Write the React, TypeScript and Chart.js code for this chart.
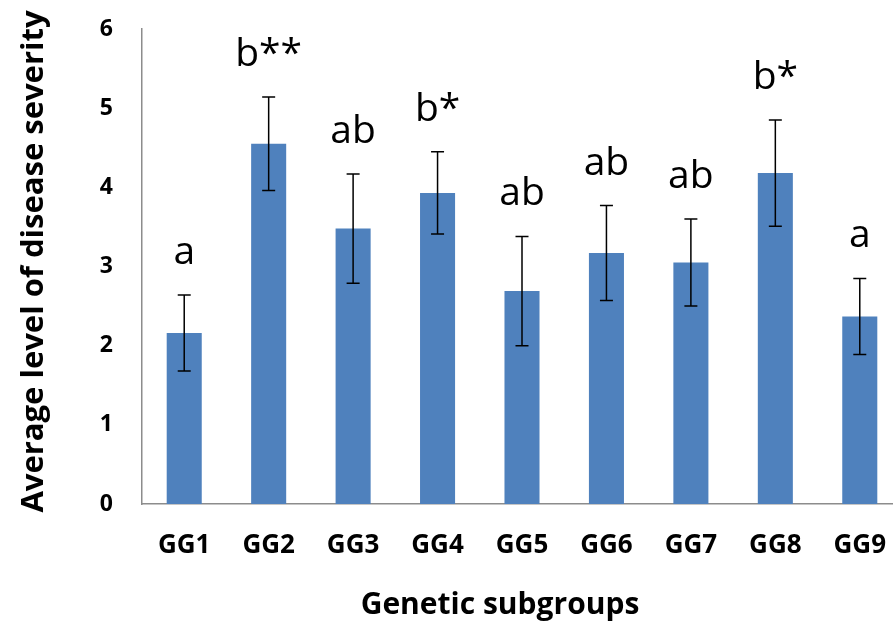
import React, { useEffect, useRef } from "react";
import { Chart, registerables } from "chart.js";

Chart.register(...registerables);

const categories = ["GG1", "GG2", "GG3", "GG4", "GG5", "GG6", "GG7", "GG8", "GG9"];
const means = [2.16, 4.55, 3.48, 3.93, 2.69, 3.17, 3.05, 4.18, 2.37];
const errors = [0.48, 0.59, 0.69, 0.52, 0.69, 0.6, 0.55, 0.67, 0.48];
const letters = ["a", "b**", "ab", "b*", "ab", "ab", "ab", "b*", "a"];
const yTicks = [0, 1, 2, 3, 4, 5, 6];
const yTitle = "Average level of disease severity";
const xTitle = "Genetic subgroups";

const FONT = "'Open Sans', 'DejaVu Sans', sans-serif";

const extrasPlugin = {
  id: "extras",
  afterDatasetsDraw(chart: any) {
    const ctx = chart.ctx;
    const meta = chart.getDatasetMeta(0);
    const ys = chart.scales.y;
    ctx.save();
    meta.data.forEach((el: any, i: number) => {
      const x = el.x;
      const top = ys.getPixelForValue(means[i] + errors[i]);
      const bot = ys.getPixelForValue(means[i] - errors[i]);
      ctx.strokeStyle = "#000000";
      ctx.lineWidth = 1.5;
      ctx.beginPath();
      ctx.moveTo(x, top);
      ctx.lineTo(x, bot);
      ctx.moveTo(x - 6.5, top);
      ctx.lineTo(x + 6.5, top);
      ctx.moveTo(x - 6.5, bot);
      ctx.lineTo(x + 6.5, bot);
      ctx.stroke();
      ctx.fillStyle = "#000000";
      ctx.font = `39px ${FONT}`;
      ctx.textAlign = "center";
      ctx.textBaseline = "alphabetic";
      ctx.fillText(letters[i], x, top - 31);
    });
    // axis titles
    ctx.fillStyle = "#000000";
    ctx.font = `bold 30px ${FONT}`;
    ctx.textAlign = "center";
    ctx.textBaseline = "alphabetic";
    ctx.fillText(xTitle, 500, 614);
    ctx.font = `bold 31px ${FONT}`;
    ctx.translate(43, 261.5);
    ctx.rotate(-Math.PI / 2);
    ctx.fillText(yTitle, 0, 0);
    ctx.restore();
  },
};

export default function App() {
  const ref = useRef<HTMLCanvasElement | null>(null);
  useEffect(() => {
    if (!ref.current) return;
    const chart = new Chart(ref.current, {
      type: "bar",
      data: {
        labels: categories,
        datasets: [
          {
            data: means,
            backgroundColor: "#4F81BD",
            borderWidth: 0,
            barPercentage: 0.415,
            categoryPercentage: 1,
          },
        ],
      },
      options: {
        responsive: false,
        animation: false,
        devicePixelRatio: 1,
        layout: { padding: { top: 29, right: 2, left: 0, bottom: 0 } },
        plugins: { legend: { display: false }, tooltip: { enabled: false } },
        scales: {
          x: {
            grid: { display: false, drawTicks: false },
            border: { display: true, color: "#8c8c8c", width: 1.5 },
            ticks: {
              color: "#000000",
              font: { family: FONT, size: 26, weight: "bold" },
              padding: 26,
            },
            afterFit: (s: any) => {
              s.height = 119;
              s.paddingLeft = 0;
              s.paddingRight = 0;
            },
          },
          y: {
            min: 0,
            max: 6,
            afterBuildTicks: (s: any) => {
              s.ticks = yTicks.map((v) => ({ value: v }));
            },
            grid: { display: false, drawTicks: false },
            border: { display: true, color: "#8c8c8c", width: 1.5 },
            ticks: {
              color: "#000000",
              font: { family: FONT, size: 23, weight: "bold" },
              padding: 29,
            },
            afterFit: (s: any) => {
              s.width = 142;
              s.paddingTop = 0;
              s.paddingBottom = 0;
            },
          },
        },
      },
      plugins: [extrasPlugin],
    });
    return () => chart.destroy();
  }, []);
  return (
    <div
      style={{
        position: "fixed",
        left: 0,
        top: 0,
        width: 893,
        height: 623,
        overflow: "hidden",
        background: "#ffffff",
      }}
    >
      <canvas ref={ref} width={904} height={623} style={{ display: "block" }} />
    </div>
  );
}
